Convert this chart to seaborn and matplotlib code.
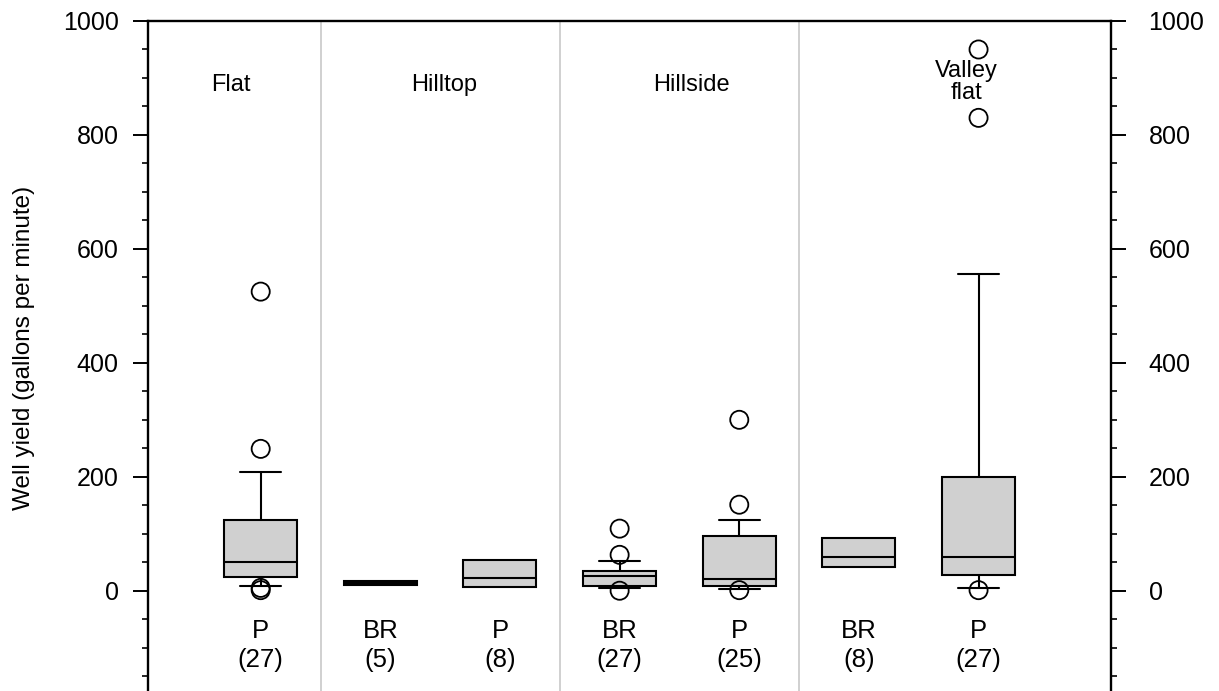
import matplotlib
matplotlib.use("Agg")
import matplotlib.pyplot as plt
from matplotlib.ticker import MultipleLocator
import pandas as pd
import seaborn as sns

# Well yield summaries by landform and well type (gallons per minute)
landforms = ["Flat", "Hilltop", "Hilltop", "Hillside", "Hillside", "Valley flat", "Valley flat"]
well_types = ["P", "BR", "P", "BR", "P", "BR", "P"]
well_counts = [27, 5, 8, 27, 25, 8, 27]
q1 = [24, 10, 6, 9, 8, 41, 27]
median = [50, 14, 22, 25, 20, 59, 59]
q3 = [124, 17, 54, 35, 96, 92, 200]
# 10th / 90th percentile whiskers (none drawn for small samples)
whisker_low = [8, None, None, 4, 3, None, 4]
whisker_high = [209, None, None, 52, 125, None, 556]
outliers = [[525, 249, 5, 1], [], [], [109, 63, 0], [300, 151, 1], [], [950, 830, 1]]
panel_titles = ["Flat", "Hilltop", "Hillside", "Valley\nflat"]

sns.set_theme(style="ticks")
plt.rcParams["font.family"] = ["Liberation Sans", "DejaVu Sans"]
plt.rcParams.update({
    "text.color": "black", "axes.labelcolor": "black",
    "xtick.color": "black", "ytick.color": "black",
    "axes.edgecolor": "black",
})

W, H = 1219, 691
fig = plt.figure(figsize=(W / 100, H / 100), dpi=100)
ax = fig.add_axes([148 / W, 0, (1111 - 148) / W, 1 - 21 / H])

ymin, ymax = -176, 1000
ax.set_ylim(ymin, ymax)
ax.set_xlim(-0.942, 7.107)

box_fill = "#d0d0d0"
lw = 1.5
for i in range(len(well_types)):
    has_whiskers = whisker_low[i] is not None
    stats = dict(
        med=median[i], q1=q1[i], q3=q3[i],
        whislo=whisker_low[i] if has_whiskers else q1[i],
        whishi=whisker_high[i] if has_whiskers else q3[i],
        fliers=[],
    )
    ax.bxp([stats], positions=[i], widths=0.61, capwidths=0.34,
           patch_artist=True, showfliers=False, showcaps=has_whiskers,
           manage_ticks=False,
           boxprops=dict(facecolor=box_fill, edgecolor="black", linewidth=lw),
           medianprops=dict(color="black", linewidth=lw),
           whiskerprops=dict(color="black", linewidth=lw),
           capprops=dict(color="black", linewidth=lw))

# Individual values outside the whiskers
flier_df = pd.DataFrame(
    [(i, v) for i, vals in enumerate(outliers) for v in vals],
    columns=["position", "yield"],
)
sns.scatterplot(data=flier_df, x="position", y="yield", ax=ax, marker="o",
                s=170, facecolors="none", edgecolors="black", linewidths=1.3,
                zorder=4, legend=False)
ax.set_xlabel("")
ax.set_ylabel("")

# Landform separators
for xv in [0.5, 2.5, 4.5]:
    ax.axvline(xv, color="#c8c8c8", lw=1.2, zorder=0)

# Landform titles
title_pos = [(-0.25, 888), (1.53, 888), (3.6, 888), (5.9, 893)]
for (tx, ty), t in zip(title_pos, panel_titles):
    ax.text(tx, ty, t, ha="center", va="center", fontsize=17, linespacing=1.05)

# Well type and sample size under each box
for i, (wt, n) in enumerate(zip(well_types, well_counts)):
    ax.text(i, -96, f"{wt}\n({n})", ha="center", va="center",
            fontsize=18.5, linespacing=1.3)

ax.set_xticks([])
ax.yaxis.set_major_locator(MultipleLocator(200))
ax.yaxis.set_minor_locator(MultipleLocator(50))
ax.tick_params(axis="y", which="major", length=11, width=1.4, labelsize=18, pad=10,
               direction="out")
ax.tick_params(axis="y", which="minor", length=4.5, width=1.2, direction="out")
for side in ["left", "right", "top"]:
    ax.spines[side].set_visible(True)
    ax.spines[side].set_linewidth(1.7)
ax.spines["bottom"].set_visible(False)

ax2 = ax.twinx()
ax2.set_ylim(ymin, ymax)
ax2.yaxis.set_major_locator(MultipleLocator(200))
ax2.yaxis.set_minor_locator(MultipleLocator(50))
ax2.tick_params(axis="y", which="major", length=11, width=1.4, labelsize=18, pad=16,
                direction="out")
ax2.tick_params(axis="y", which="minor", length=4.5, width=1.2, direction="out")
ax2.set_ylabel("")
for side in ["left", "top", "bottom", "right"]:
    ax2.spines[side].set_visible(False)

fig.text(24 / W, 1 - 348 / H, "Well yield (gallons per minute)", rotation=90,
         ha="center", va="center", fontsize=17.5)

fig.savefig("out.png", dpi=100)
